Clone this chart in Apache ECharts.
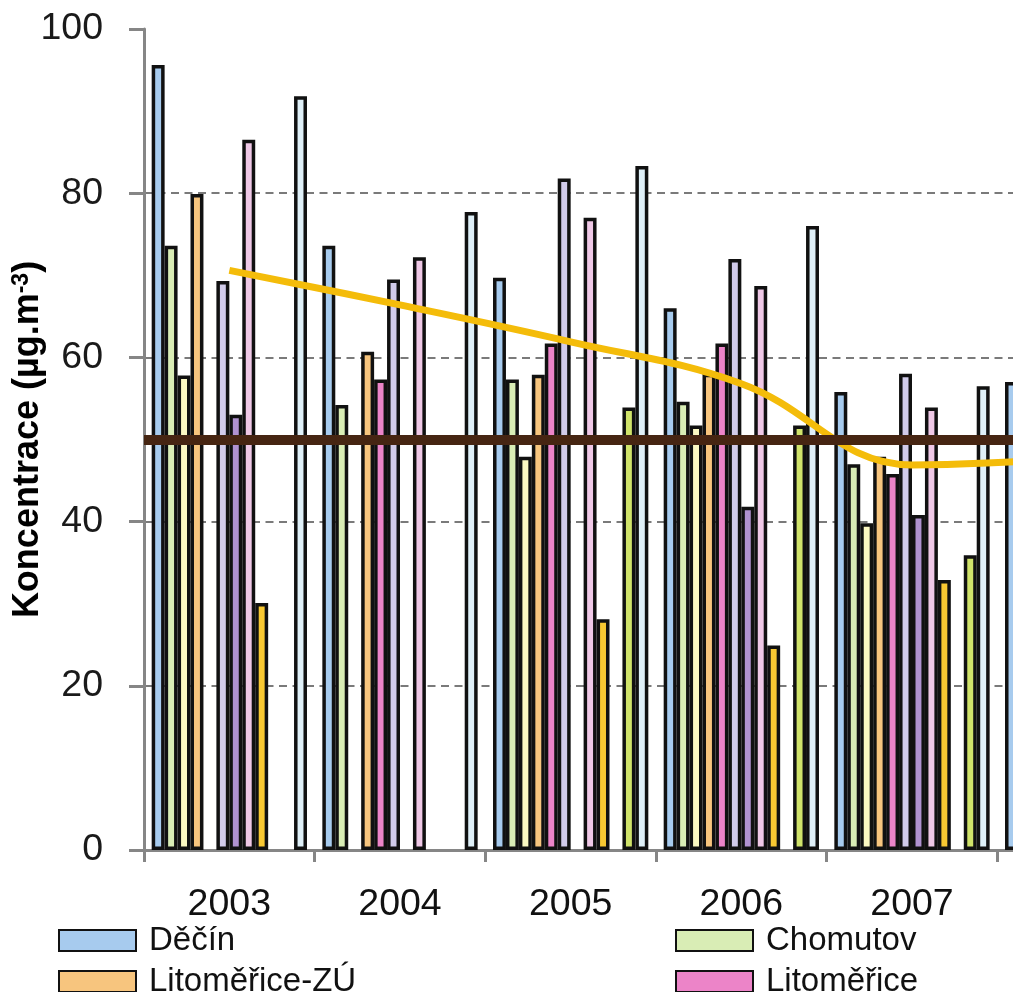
<!DOCTYPE html>
<html><head><meta charset="utf-8">
<script src="https://cdn.jsdelivr.net/npm/echarts@6/dist/echarts.min.js"></script>
<style>html,body{margin:0;padding:0;overflow:hidden;background:#fff;width:1013px;height:992px}#c{width:1300px;height:1100px}</style>
</head><body><div id="c"></div><script>
const years = ['2003','2004','2005','2006','2007','2008'];
const yTicks = [0, 20, 40, 60, 80, 100];
const decin      = [95.6, 73.6, 69.7, 66.0, 55.8, 57.0];
const chomutov   = [73.6, 54.2, 57.3, 54.6, 47.0, null];
const lom        = [57.8, null, 47.9, 51.7, 39.8, null];
const litZU      = [79.9, 60.7, 57.9, 58.0, 47.9, null];
const litomerice = [null, 57.3, 61.7, 61.7, 45.8, null];
const most       = [69.3, 69.5, 81.8, 72.0, 58.0, null];
const rudolice   = [53.0, null, null, 41.8, 40.8, null];
const sneznik    = [86.5, 72.2, 77.0, 68.7, 53.9, null];
const teplice    = [30.1, null, 28.1, 24.9, 32.9, null];
const tusimice   = [null, null, null, null, null, null];
const kockov     = [null, null, 53.9, 51.7, 35.9, null];
const usti       = [91.8, 77.7, 83.3, 76.0, 56.5, null];
const prumer     = [70.6, 66.4, 61.9, 56.8, 46.9, 47.8];
const limit = 50;

const barNames = ['Děčín','Chomutov','Lom','Litoměřice-ZÚ','Litoměřice','Most','Rudolice','Sněžník','Teplice','Tušimice','Ústí n.L.-Kočkov','Ústí n.L.-město'];
const barData = [decin, chomutov, lom, litZU, litomerice, most, rudolice, sneznik, teplice, tusimice, kockov, usti];
const barColors = ['#A7CBEE','#D9EDB5','#FCF9C2','#F7C57E','#EC84C8','#D1CBEA','#B092D0','#EFC8E6','#F8C832','#CCCCCC','#D0E36A','#DFF0F8'];

const FONT = 'Liberation Sans';
const chart = echarts.init(document.getElementById('c'), null, {renderer: 'canvas'});

const series = barNames.map((n, i) => ({
  name: n, type: 'bar', data: barData[i],
  barGap: '0%', barCategoryGap: '9%',
  itemStyle: {color: barColors[i], borderColor: '#111', borderWidth: 3.5},
  emphasis: {disabled: true}, z: 2
}));
series.push({
  name: 'průměr', type: 'line', data: prumer, smooth: 0.4, showSymbol: false, symbol: 'none',
  lineStyle: {color: '#F4BC0A', width: 7}, z: 4, emphasis: {disabled: true}
});
series.push({
  name: 'limit', type: 'line', data: [], z: 5,
  markLine: {silent: true, symbol: 'none', label: {show: false},
    lineStyle: {color: '#462512', width: 10, type: 'solid'},
    data: [{yAxis: limit}]}
});

chart.setOption({
  animation: false,
  backgroundColor: '#fff',
  grid: {left: 144, top: 29, right: 132, bottom: 250, containLabel: false, outerBoundsMode: 'none'},
  xAxis: {
    type: 'category', data: years,
    axisLine: {show: true, lineStyle: {color: '#868686', width: 3}},
    axisTick: {show: true, length: 12, alignWithLabel: false, lineStyle: {color: '#868686', width: 3}},
    axisLabel: {fontSize: 37.5, fontFamily: FONT, color: '#111', margin: 36},
    splitLine: {show: false}
  },
  yAxis: {
    type: 'value', min: yTicks[0], max: yTicks[yTicks.length - 1], interval: 20,
    axisLine: {show: true, lineStyle: {color: '#868686', width: 3}},
    axisTick: {show: true, length: 15, lineStyle: {color: '#868686', width: 3}},
    axisLabel: {fontSize: 37.5, fontFamily: FONT, color: '#1a1a1a', margin: 41},
    splitLine: {show: true, showMinLine: false, showMaxLine: false,
      lineStyle: {color: '#7a7a7a', width: 2, type: [8, 5.5]}},
    name: 'Koncentrace (µg.m{sup|-3})',
    nameLocation: 'middle', nameGap: 97, nameRotate: 90, nameMoveOverlap: false,
    nameTextStyle: {fontSize: 36, fontWeight: 'bold', fontFamily: FONT, color: '#000',
      rich: {sup: {fontSize: 23, fontWeight: 'bold', fontFamily: FONT, color: '#000', verticalAlign: 'top', padding: [0, 0, 14, 0]}}}
  },
  legend: [
    {left: 58, top: 924, orient: 'vertical', padding: 0, itemWidth: 77, itemHeight: 21, itemGap: 8,
     icon: 'rect', selectedMode: false, data: ['Děčín', 'Litoměřice-ZÚ'],
     textStyle: {fontSize: 33, lineHeight: 33, fontFamily: FONT, color: '#111', padding: [0, 0, 0, 8]}},
    {left: 675, top: 924, orient: 'vertical', padding: 0, itemWidth: 77, itemHeight: 21, itemGap: 8,
     icon: 'rect', selectedMode: false, data: ['Chomutov', 'Litoměřice'],
     textStyle: {fontSize: 33, lineHeight: 33, fontFamily: FONT, color: '#111', padding: [0, 0, 0, 8]}}
  ],
  series: series
});
</script></body></html>
